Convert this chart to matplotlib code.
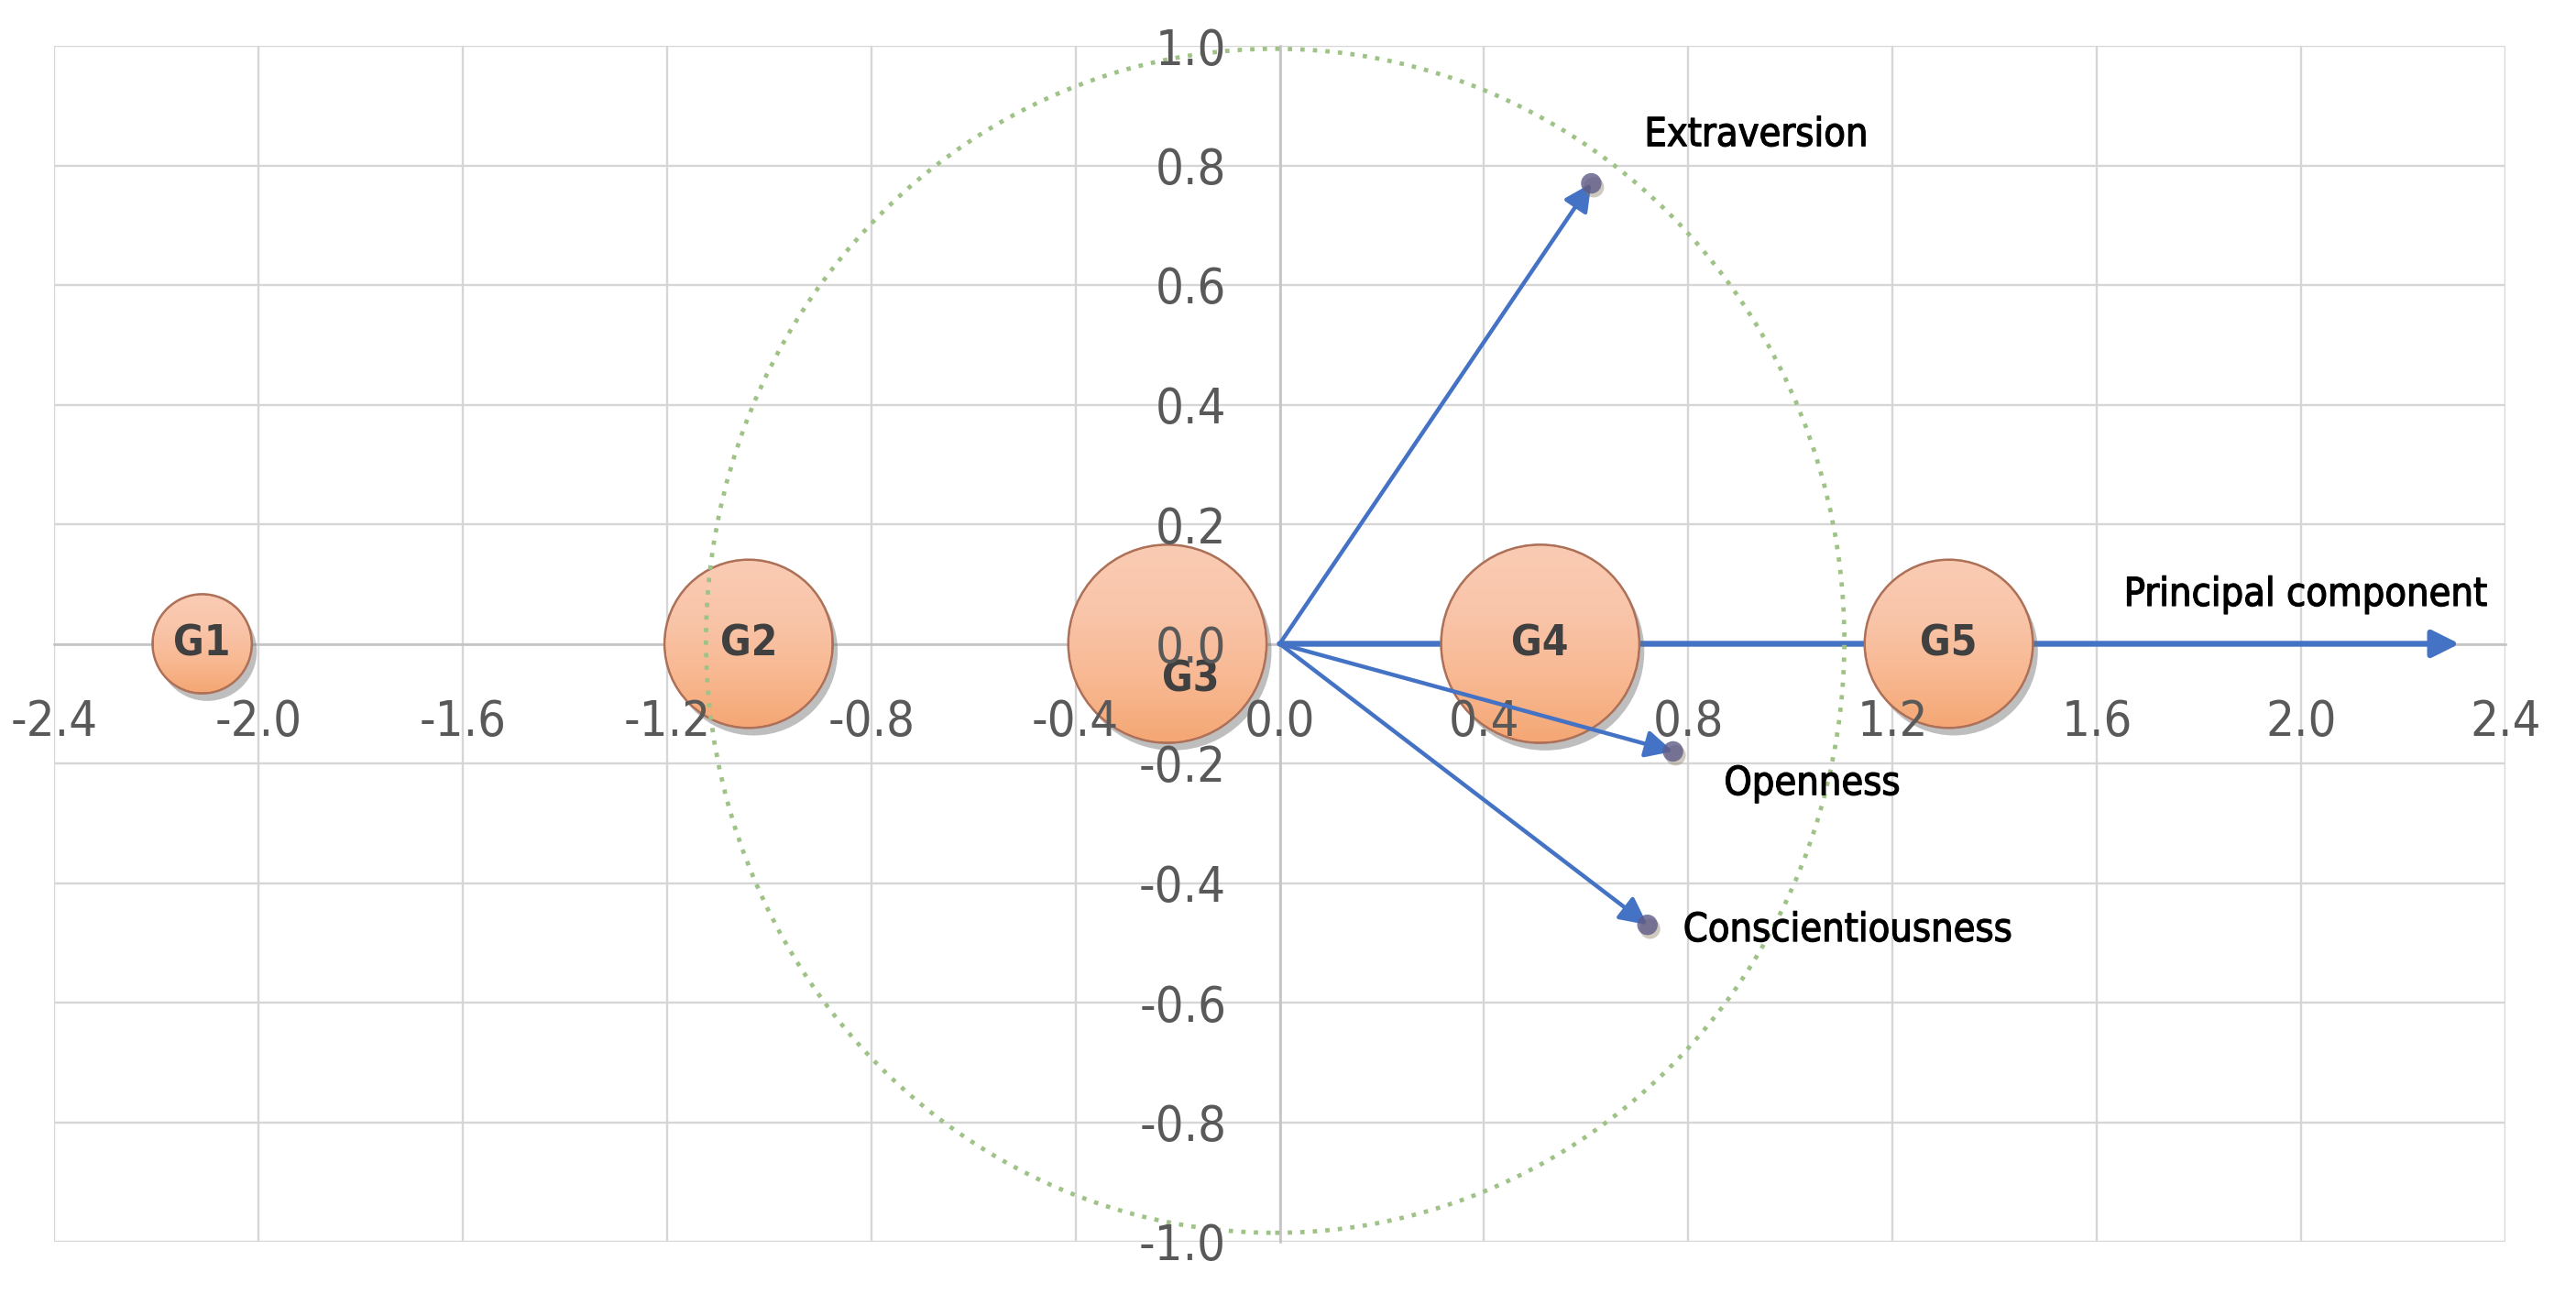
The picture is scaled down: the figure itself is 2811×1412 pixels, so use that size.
import matplotlib
matplotlib.use("Agg")
import matplotlib.pyplot as plt
import numpy as np
from matplotlib import font_manager
from matplotlib.patches import Ellipse, Circle
from matplotlib.colors import LinearSegmentedColormap
from matplotlib.transforms import ScaledTranslation
import matplotlib.patheffects as pe

# groups (bubbles) on the principal component
groups = ["G1", "G2", "G3", "G4", "G5"]
group_x = [-2.11, -1.04, -0.22, 0.51, 1.31]
group_y = [0.0, 0.0, 0.0, 0.0, 0.0]
group_size = [25, 72, 100, 100, 72]
label_dx = [0.0, 0.0, 0.045, 0.0, 0.0]
label_dy = [0.0, 0.0, -0.06, 0.0, 0.0]

# loading vectors
traits = ["Extraversion", "Openness", "Conscientiousness"]
trait_x = [0.61, 0.77, 0.72]
trait_y = [0.77, -0.18, -0.47]
trait_lab_x = [0.714, 0.87, 0.79]
trait_lab_y = [0.851, -0.234, -0.479]

pc_name = "Principal component"
pc_x, pc_y = 2.31, 0.0
pc_lab_x, pc_lab_y = 1.653, 0.082

xticks = [-2.4, -2.0, -1.6, -1.2, -0.8, -0.4, 0.0, 0.4, 0.8, 1.2, 1.6, 2.0, 2.4]
xlabels = ["-2.4", "-2.0", "-1.6", "-1.2", "-0.8", "-0.4", "0.0", "0.4", "0.8", "1.2", "1.6", "2.0", "2.4"]
yticks = [-1.0, -0.8, -0.6, -0.4, -0.2, 0.0, 0.2, 0.4, 0.6, 0.8, 1.0]
ylabels = ["-1.0", "-0.8", "-0.6", "-0.4", "-0.2", "0.0", "0.2", "0.4", "0.6", "0.8", "1.0"]

# font: condensed DejaVu if present, else plain one a bit smaller
cond = any(f.name == "DejaVu Sans" and f.stretch == "condensed"
           for f in font_manager.fontManager.ttflist)
k = 1.0 if cond else 0.9
plt.rcParams["font.family"] = ["DejaVu Sans"]
plt.rcParams["font.stretch"] = "condensed"

fig = plt.figure(figsize=(28.11, 14.12), dpi=100)
ax = fig.add_axes([59/2811, 57/1412, 2675/2811, 1305/1412])
ax.set_xlim(-2.4, 2.4)
ax.set_ylim(-1.0, 1.0)

grid_c = "#d6d6d6"
for xv in xticks:
    ax.axvline(xv, color=grid_c, lw=1.7, zorder=0)
for yv in yticks:
    ax.axhline(yv, color=grid_c, lw=1.7, zorder=0)

for s in ["top", "right"]:
    ax.spines[s].set_visible(False)
ax.spines["left"].set_position("zero")
ax.spines["bottom"].set_position("zero")
for s in ["left", "bottom"]:
    ax.spines[s].set_color("#c4c4c4")
    ax.spines[s].set_linewidth(1.9)
    ax.spines[s].set_zorder(0.5)

ax.set_axisbelow(False)
ax.set_xticks(xticks, xlabels)
ax.set_yticks(yticks, ylabels)
ax.tick_params(axis="x", length=0, pad=43, labelsize=39*k, labelcolor="#595959")
ax.tick_params(axis="y", length=0, pad=42, labelsize=39*k, labelcolor="#595959")

heavy = [pe.withStroke(linewidth=0.9, foreground="black")]

# principal component arrow (behind bubbles)
ax.annotate("", xy=(pc_x, pc_y), xytext=(0, 0),
            arrowprops=dict(arrowstyle="-|>,head_length=0.6,head_width=0.3",
                            color="#4472c4", lw=4.6, mutation_scale=30,
                            shrinkA=0, shrinkB=0), zorder=1)
ax.text(pc_lab_x, pc_lab_y, pc_name, fontsize=31*k, color="black",
        ha="left", va="center", zorder=5, path_effects=heavy)

# bubbles: shadowed base + vertical gradient fill
sz = [v * 242 for v in group_size]
ax.scatter(group_x, group_y, s=sz, color="#f6ad85", edgecolors="#ad7058",
           linewidths=2.0, zorder=2,
           path_effects=[pe.SimplePatchShadow(offset=(4, -6), shadow_rgbFace="#6f6f6f", alpha=0.45),
                         pe.Normal()])
grad = LinearSegmentedColormap.from_list("peach", ["#f5a774", "#f8b993", "#f9c5aa", "#facbb3"])
px_x = ax.bbox.width / 4.8
px_y = ax.bbox.height / 2.0
col = np.linspace(0, 1, 256).reshape(-1, 1)
for x, y, s in zip(group_x, group_y, sz):
    r_in = np.sqrt(s) / 2 / 72 - 0.012
    rx = r_in * fig.dpi / px_x
    ry = r_in * fig.dpi / px_y
    clip = Circle((0, 0), r_in, transform=fig.dpi_scale_trans + ScaledTranslation(x, y, ax.transData),
                  facecolor="none", edgecolor="none")
    ax.add_patch(clip)
    im = ax.imshow(col, cmap=grad, origin="lower", aspect="auto",
                   extent=(x - rx, x + rx, y - ry, y + ry), zorder=2.05, interpolation="bilinear")
    im.set_clip_path(clip)
ax.set_xlim(-2.4, 2.4)
ax.set_ylim(-1.0, 1.0)

for g, x, y, dx, dy in zip(groups, group_x, group_y, label_dx, label_dy):
    ax.text(x + dx, y + dy, g, fontsize=33*k, fontweight="bold", color="#404040",
            ha="center", va="center", zorder=2.2)

# dotted correlation circle
ax.add_patch(Ellipse((-0.009, 0.005), width=2.229, height=1.98, fill=False,
                     edgecolor="#9fc287", lw=3.4, linestyle=(0, (1, 1.9)),
                     zorder=2.3))

# trait arrows
for name, x, y, lx, ly in zip(traits, trait_x, trait_y, trait_lab_x, trait_lab_y):
    ax.annotate("", xy=(x, y), xytext=(0, 0),
                arrowprops=dict(arrowstyle="-|>,head_length=0.6,head_width=0.3",
                                color="#4472c4", lw=3.2, mutation_scale=30,
                                shrinkA=0, shrinkB=0), zorder=3)
    ax.text(lx, ly, name, fontsize=31*k, color="black", ha="left", va="center",
            zorder=5, path_effects=heavy)
ax.scatter(trait_x, trait_y, s=260, color="#5d5b88", edgecolors="none", alpha=0.8,
           zorder=3.1,
           path_effects=[pe.SimplePatchShadow(offset=(2, -3), shadow_rgbFace="#8a7a60", alpha=0.4),
                         pe.Normal()])

fig.savefig("out.png", dpi=100)
